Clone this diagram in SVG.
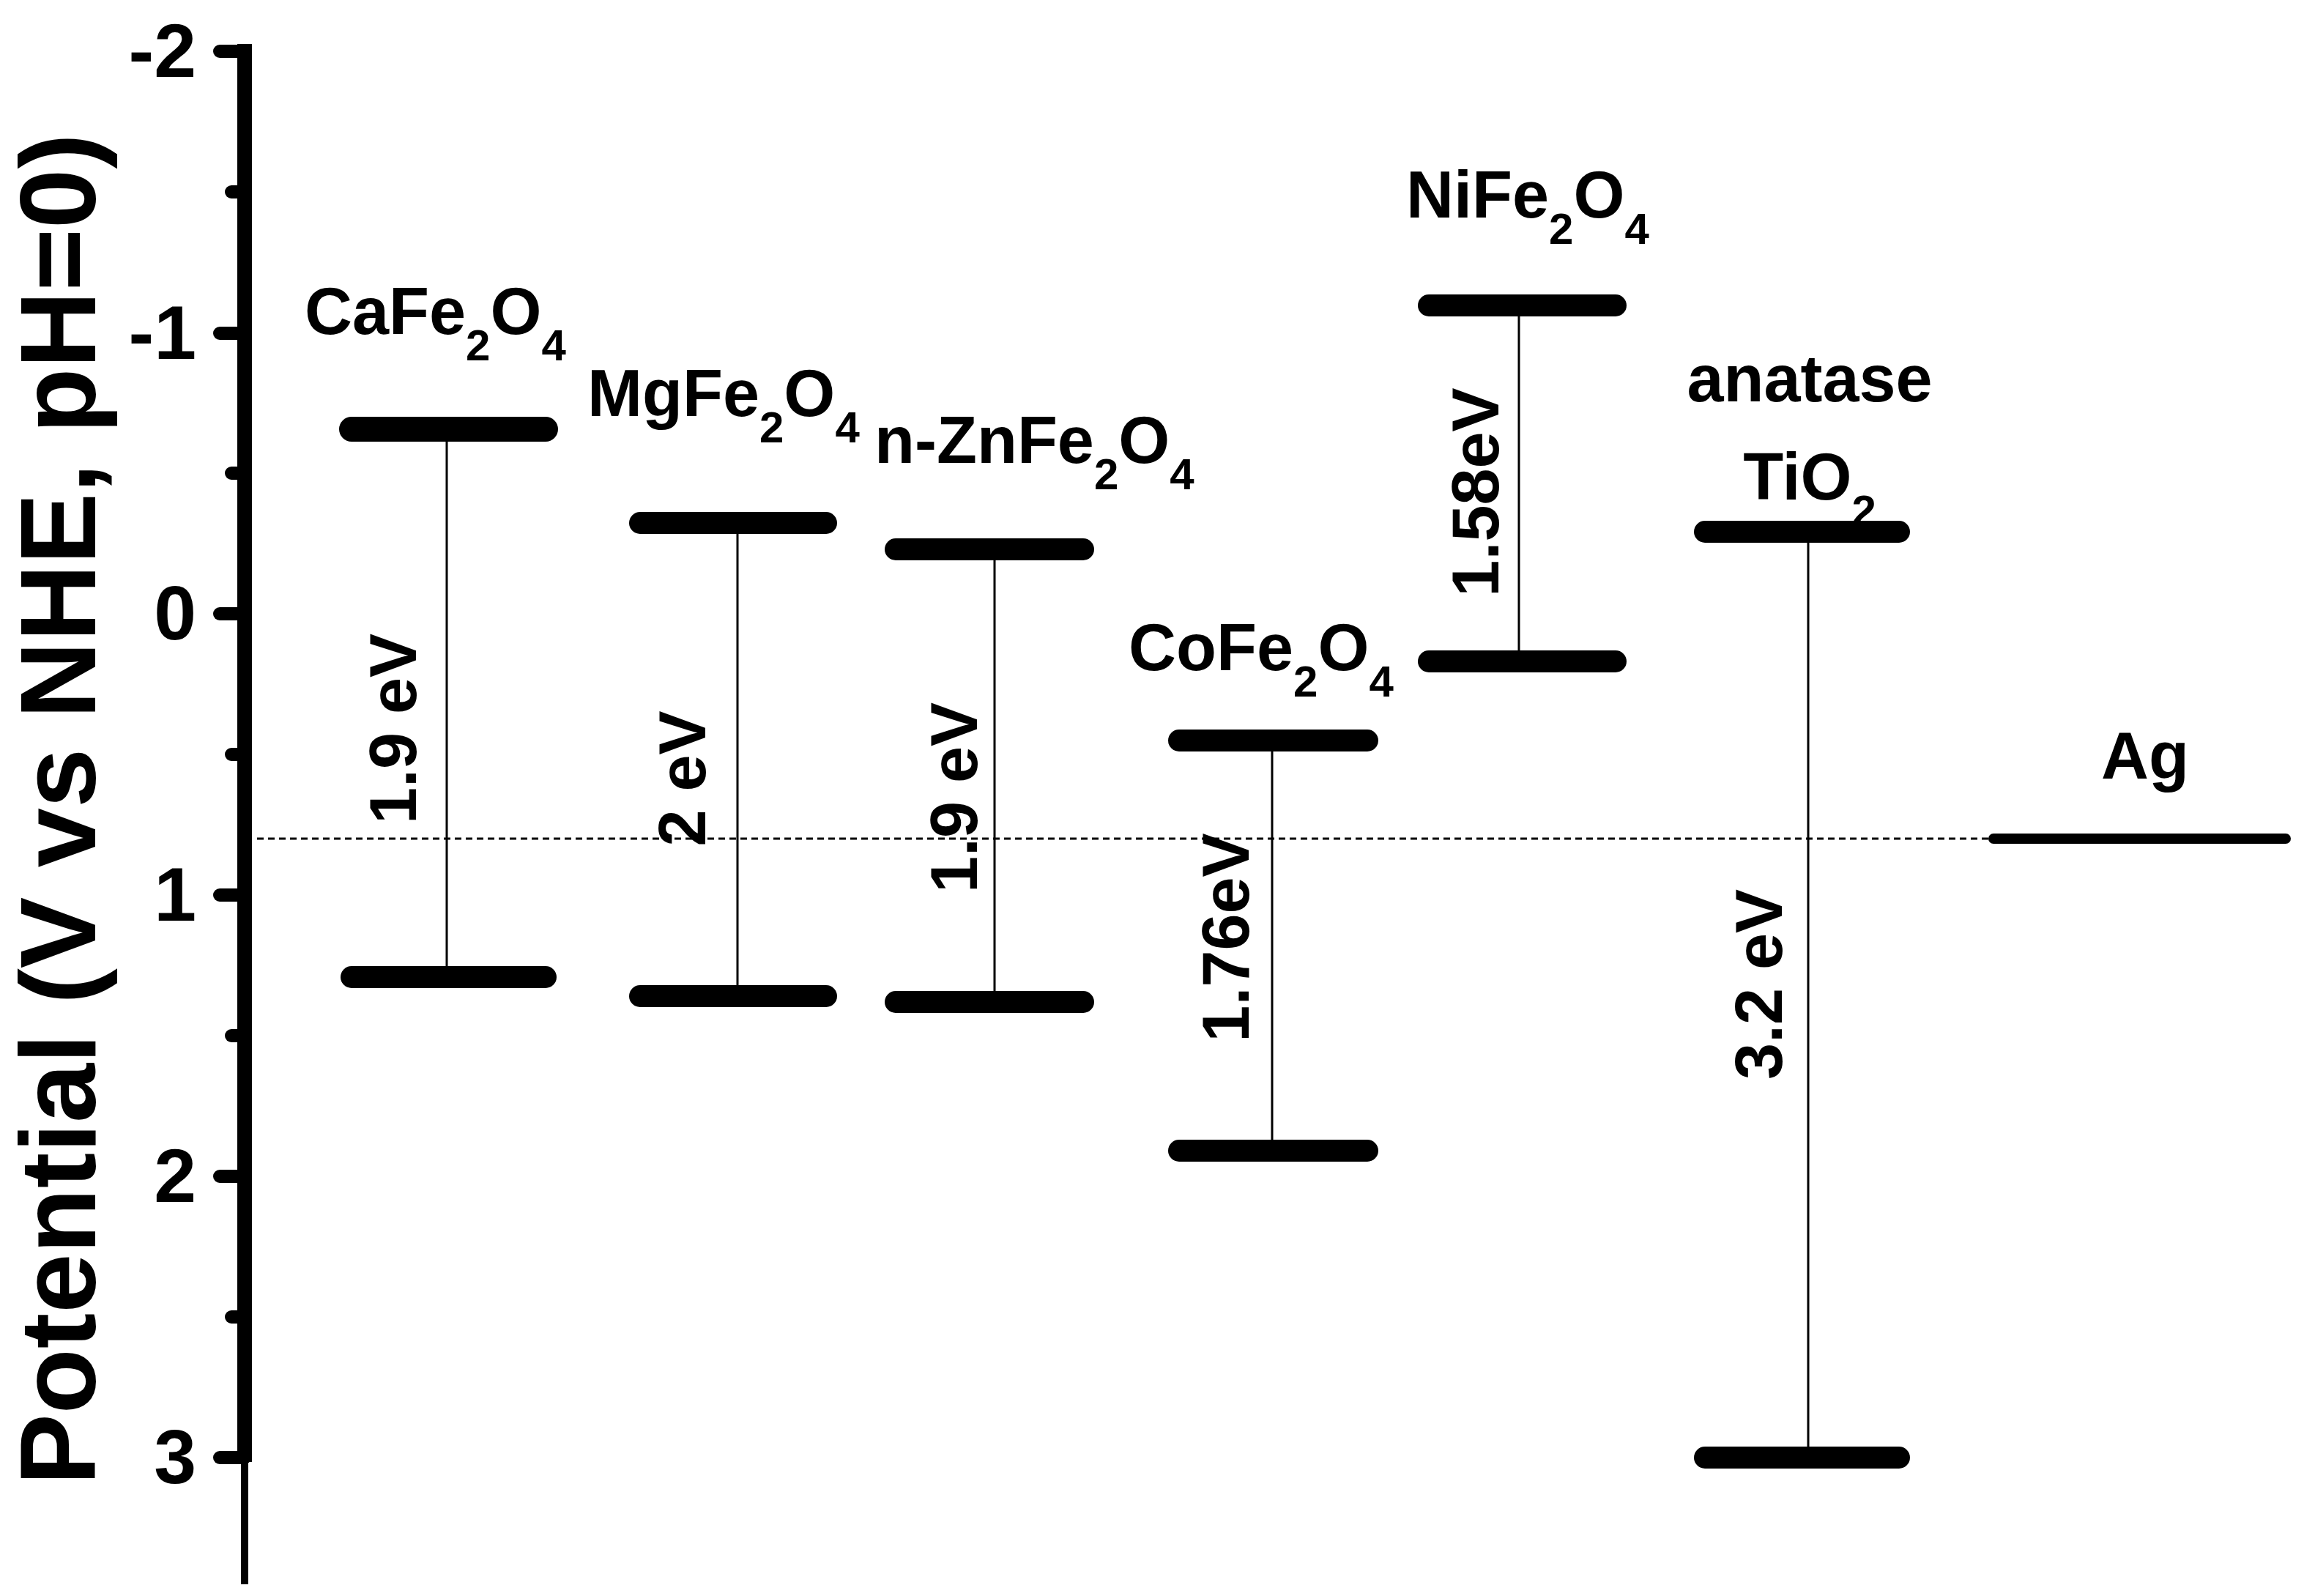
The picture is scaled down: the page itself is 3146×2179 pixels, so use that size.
<svg xmlns="http://www.w3.org/2000/svg" width="3146" height="2179" viewBox="0 0 3146 2179">
<style>
text{font-family:"Liberation Sans",Arial,sans-serif;font-weight:bold;fill:#000}
.tk{font-size:104px;text-anchor:end}
.nm{font-size:90px}
.gap{font-size:90px;text-anchor:middle}
.band{stroke:#000;stroke-width:30;stroke-linecap:round}
.link{stroke:#000;stroke-width:3}
</style>
<rect width="3146" height="2179" fill="#fff"/>
<g id="axis" stroke="#000">
<line x1="334" y1="60" x2="334" y2="1996" stroke-width="20"/>
<line x1="334" y1="1990" x2="334" y2="2163" stroke-width="10"/>
<g stroke-width="18" stroke-linecap="round">
<line x1="300" y1="70" x2="334" y2="70"/><line x1="300" y1="455" x2="334" y2="455"/>
<line x1="300" y1="838" x2="334" y2="838"/><line x1="300" y1="1222" x2="334" y2="1222"/>
<line x1="300" y1="1606" x2="334" y2="1606"/><line x1="300" y1="1990" x2="334" y2="1990"/>
<line x1="316" y1="262" x2="334" y2="262"/><line x1="316" y1="646" x2="334" y2="646"/>
<line x1="316" y1="1030" x2="334" y2="1030"/><line x1="316" y1="1414" x2="334" y2="1414"/>
<line x1="316" y1="1798" x2="334" y2="1798"/>
</g>
</g>
<g id="ticklabels">
<text class="tk" x="268" y="105">-2</text>
<text class="tk" x="268" y="490">-1</text>
<text class="tk" x="268" y="873">0</text>
<text class="tk" x="268" y="1257">1</text>
<text class="tk" x="268" y="1641">2</text>
<text class="tk" x="268" y="2025">3</text>
</g>
<text id="ytitle" transform="translate(130,1105) rotate(-90)" text-anchor="middle" style="font-size:146px">Potential (V vs NHE, pH=0)</text>
<g id="connectors">
<line x1="351" y1="1145" x2="3121" y2="1145" stroke="#000" stroke-width="3" stroke-dasharray="9,6"/>
<line class="link" x1="610" y1="586" x2="610" y2="1334"/>
<line class="link" x1="1007" y1="714" x2="1007" y2="1360"/>
<line class="link" x1="1358" y1="750" x2="1358" y2="1368"/>
<line class="link" x1="1737" y1="1011" x2="1737" y2="1571"/>
<line class="link" x1="2074" y1="417" x2="2074" y2="903"/>
<line class="link" x1="2469" y1="726" x2="2469" y2="1990"/>
</g>
<g id="CaFe2O4">
<line class="band" x1="480" y1="586" x2="745" y2="586" style="stroke-width:34"/>
<line class="band" x1="480" y1="1334" x2="745" y2="1334"/>
<text class="nm" x="416" y="456">CaFe<tspan dy="36" font-size="60">2</tspan><tspan dy="-36">O</tspan><tspan dy="36" font-size="60">4</tspan></text>
<text class="gap" transform="translate(568,995) rotate(-90)">1.9 eV</text>
</g>
<g id="MgFe2O4">
<line class="band" x1="874" y1="714" x2="1128" y2="714"/>
<line class="band" x1="874" y1="1360" x2="1128" y2="1360"/>
<text class="nm" x="802" y="568">MgFe<tspan dy="36" font-size="60">2</tspan><tspan dy="-36">O</tspan><tspan dy="36" font-size="60">4</tspan></text>
<text class="gap" transform="translate(963,1063) rotate(-90)">2 eV</text>
</g>
<g id="ZnFe2O4">
<line class="band" x1="1223" y1="750" x2="1479" y2="750"/>
<line class="band" x1="1223" y1="1368" x2="1479" y2="1368"/>
<text class="nm" x="1194" y="632">n-ZnFe<tspan dy="36" font-size="60">2</tspan><tspan dy="-36">O</tspan><tspan dy="36" font-size="60">4</tspan></text>
<text class="gap" transform="translate(1334,1089) rotate(-90)">1.9 eV</text>
</g>
<g id="CoFe2O4">
<line class="band" x1="1610" y1="1011" x2="1867" y2="1011"/>
<line class="band" x1="1610" y1="1571" x2="1867" y2="1571"/>
<text class="nm" x="1541" y="915">CoFe<tspan dy="36" font-size="60">2</tspan><tspan dy="-36">O</tspan><tspan dy="36" font-size="60">4</tspan></text>
<text class="gap" transform="translate(1705,1280) rotate(-90)">1.76eV</text>
</g>
<g id="NiFe2O4">
<line class="band" x1="1951" y1="417" x2="2206" y2="417"/>
<line class="band" x1="1951" y1="903" x2="2206" y2="903"/>
<text class="nm" x="1920" y="297">NiFe<tspan dy="36" font-size="60">2</tspan><tspan dy="-36">O</tspan><tspan dy="36" font-size="60">4</tspan></text>
<text class="gap" transform="translate(2046,672) rotate(-90)">1.58eV</text>
</g>
<g id="TiO2">
<line class="band" x1="2328" y1="726" x2="2593" y2="726"/>
<line class="band" x1="2328" y1="1990" x2="2593" y2="1990"/>
<text class="nm" x="2471" y="548" text-anchor="middle">anatase</text>
<text class="nm" x="2471" y="682" text-anchor="middle">TiO<tspan dy="36" font-size="60">2</tspan></text>
<text class="gap" transform="translate(2433,1344) rotate(-90)">3.2 eV</text>
</g>
<g id="Ag">
<line x1="2722" y1="1145" x2="3121" y2="1145" stroke="#000" stroke-width="14" stroke-linecap="round"/>
<text class="nm" x="2929" y="1063" text-anchor="middle">Ag</text>
</g>
</svg>
